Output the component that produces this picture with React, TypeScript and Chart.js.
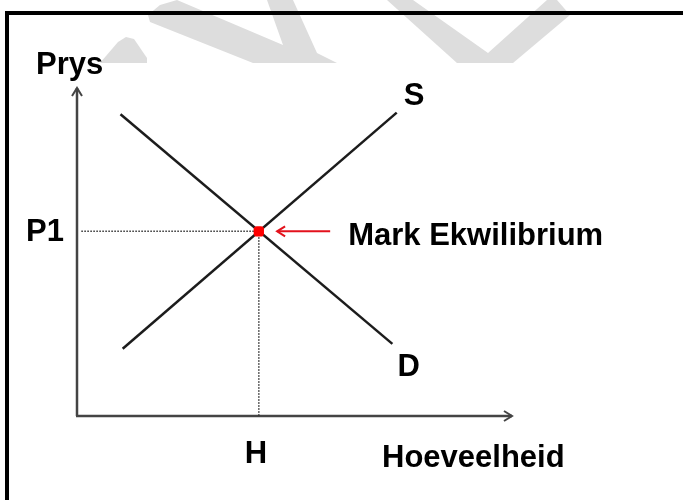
import React, { useEffect, useRef } from "react";
import { Chart, registerables } from "chart.js";

Chart.register(...registerables);

// ---- data (axis units 0..100) ----
const demandX = [10, 72.5];
const demandY = [92, 22];
const supplyX = [10.5, 73.5];
const supplyY = [20.5, 92.5];
const equilibrium = [41.8, 56.3]; // [quantity, price]
const guideStartX = [1];
const guideEndY = [0];
const pointerX = [58.2, 46]; // red arrow: from, to
const axisRange = [0, 100];

// ---- texts ----
const yAxisTitle = "Prys";
const xAxisTitle = "Hoeveelheid";
const priceTick = "P1";
const quantityTick = "H";
const supplyLabel = "S";
const demandLabel = "D";
const equilibriumLabel = "Mark Ekwilibrium";

const FONT = 'bold 31px "Liberation Sans", Arial, Helvetica, sans-serif';

function arrowHead(ctx: CanvasRenderingContext2D, tx: number, ty: number, dir: "up" | "right" | "left", len: number, half: number) {
  ctx.beginPath();
  if (dir === "up") {
    ctx.moveTo(tx - half, ty + len);
    ctx.lineTo(tx, ty);
    ctx.lineTo(tx + half, ty + len);
  } else if (dir === "right") {
    ctx.moveTo(tx - len, ty - half);
    ctx.lineTo(tx, ty);
    ctx.lineTo(tx - len, ty + half);
  } else {
    ctx.moveTo(tx + len, ty - half);
    ctx.lineTo(tx, ty);
    ctx.lineTo(tx + len, ty + half);
  }
  ctx.stroke();
}

const decorPlugin = {
  id: "decor",
  beforeDraw(chart: any) {
    const ctx: CanvasRenderingContext2D = chart.ctx;
    ctx.save();
    ctx.fillStyle = "#ffffff";
    ctx.fillRect(0, 0, chart.width, chart.height);
    // faint watermark
    ctx.fillStyle = "#dddddd";
    const polys: number[][][] = [
      [[100, 63], [118, 42], [126, 37], [134, 39], [147, 58], [147, 63]],
      [[150, 22], [148, 15], [160, 5], [177, 0], [283, 45], [267, 0], [293, 0], [317, 53], [337, 63], [253, 63]],
      [[387, 0], [413, 0], [488, 53], [547, 0], [557, 0], [570, 15], [513, 63], [457, 63]],
    ];
    polys.forEach((p) => {
      ctx.beginPath();
      p.forEach(([x, y], i) => (i === 0 ? ctx.moveTo(x, y) : ctx.lineTo(x, y)));
      ctx.closePath();
      ctx.fill();
    });
    // frame
    ctx.fillStyle = "#000000";
    ctx.fillRect(5, 11, chart.width - 5, 4);
    ctx.fillRect(5, 11, 4, chart.height - 11);
    ctx.restore();
  },
  beforeDatasetsDraw(chart: any) {
    const ctx: CanvasRenderingContext2D = chart.ctx;
    const xs = chart.scales.x;
    const ys = chart.scales.y;
    const x0 = xs.getPixelForValue(axisRange[0]);
    const x1 = xs.getPixelForValue(axisRange[1]);
    const y0 = ys.getPixelForValue(axisRange[0]);
    const y1 = ys.getPixelForValue(axisRange[1]);
    ctx.save();
    ctx.strokeStyle = "#444444";
    ctx.lineWidth = 2.5;
    ctx.lineCap = "butt";
    ctx.beginPath();
    ctx.moveTo(x0, y0);
    ctx.lineTo(x0, y1);
    ctx.moveTo(x0 - 1, y0);
    ctx.lineTo(x1, y0);
    ctx.stroke();
    ctx.lineWidth = 2;
    arrowHead(ctx, x0, y1, "up", 8, 5);
    arrowHead(ctx, x1, y0, "right", 8, 5);
    ctx.restore();
  },
  afterDatasetsDraw(chart: any) {
    const ctx: CanvasRenderingContext2D = chart.ctx;
    const xs = chart.scales.x;
    const ys = chart.scales.y;
    const ex = xs.getPixelForValue(equilibrium[0]);
    const ey = ys.getPixelForValue(equilibrium[1]);
    ctx.save();
    // red pointer arrow
    const ax0 = xs.getPixelForValue(pointerX[0]);
    const ax1 = xs.getPixelForValue(pointerX[1]);
    ctx.strokeStyle = "#e3121c";
    ctx.lineWidth = 2;
    ctx.beginPath();
    ctx.moveTo(ax0, ey);
    ctx.lineTo(ax1, ey);
    ctx.stroke();
    arrowHead(ctx, ax1, ey, "left", 8, 5);

    // texts
    ctx.fillStyle = "#000000";
    ctx.font = FONT;
    ctx.textBaseline = "alphabetic";
    ctx.textAlign = "left";
    const sx = xs.getPixelForValue(supplyX[1]);
    const sy = ys.getPixelForValue(supplyY[1]);
    const dx = xs.getPixelForValue(demandX[1]);
    const dy = ys.getPixelForValue(demandY[1]);
    const yTop = ys.getPixelForValue(axisRange[1]);
    const yBase = ys.getPixelForValue(axisRange[0]);
    const xLeft = xs.getPixelForValue(axisRange[0]);
    ctx.fillText(yAxisTitle, xLeft - 41, yTop - 14);
    ctx.fillText(priceTick, 26, ey + 10);
    ctx.fillText(supplyLabel, sx + 7, sy - 8);
    ctx.fillText(demandLabel, dx + 5, dy + 32);
    ctx.fillText(equilibriumLabel, ax0 + 18, ey + 14);
    ctx.textAlign = "center";
    ctx.fillText(quantityTick, ex - 3, yBase + 47);
    ctx.textAlign = "left";
    ctx.fillText(xAxisTitle, 382, yBase + 51);
    ctx.restore();
  },
};

export default function App() {
  const ref = useRef<HTMLCanvasElement | null>(null);
  useEffect(() => {
    document.body.style.margin = "0";
    const canvas = ref.current;
    if (!canvas) return;
    const lineStyle = {
      showLine: true,
      pointRadius: 0,
      borderColor: "#1c1c1c",
      borderWidth: 2.5,
      fill: false,
      clip: false as any,
    };
    const guideStyle = {
      showLine: true,
      pointRadius: 0,
      borderColor: "#333333",
      borderWidth: 1.5,
      borderDash: [1.5, 1.5],
      fill: false,
      clip: false as any,
    };
    const chart = new Chart(canvas, {
      type: "scatter",
      data: {
        datasets: [
          {
            label: "Ekwilibrium",
            data: [{ x: equilibrium[0], y: equilibrium[1] }],
            pointRadius: 6,
            pointStyle: "rectRounded",
            backgroundColor: "#ff0000",
            borderColor: "#ff0000",
            borderWidth: 0,
            clip: false as any,
          },
          {
            label: "D",
            data: demandX.map((x, i) => ({ x, y: demandY[i] })),
            ...lineStyle,
          },
          {
            label: "S",
            data: supplyX.map((x, i) => ({ x, y: supplyY[i] })),
            ...lineStyle,
          },
          {
            label: "P1 guide",
            data: [
              { x: guideStartX[0], y: equilibrium[1] },
              { x: equilibrium[0], y: equilibrium[1] },
            ],
            ...guideStyle,
          },
          {
            label: "H guide",
            data: [
              { x: equilibrium[0], y: equilibrium[1] },
              { x: equilibrium[0], y: guideEndY[0] },
            ],
            ...guideStyle,
          },
        ] as any,
      },
      options: {
        responsive: false,
        animation: false,
        events: [],
        layout: { padding: { left: 77, right: 171, top: 88, bottom: 84 } },
        scales: {
          x: { type: "linear", min: axisRange[0], max: axisRange[1], display: false },
          y: { type: "linear", min: axisRange[0], max: axisRange[1], display: false },
        },
        plugins: { legend: { display: false }, tooltip: { enabled: false } },
      },
      plugins: [decorPlugin],
    });
    return () => chart.destroy();
  }, []);
  return (
    <div style={{ width: 683, height: 500 }}>
      <canvas ref={ref} width={683} height={500} style={{ display: "block", width: 683, height: 500 }} />
    </div>
  );
}
